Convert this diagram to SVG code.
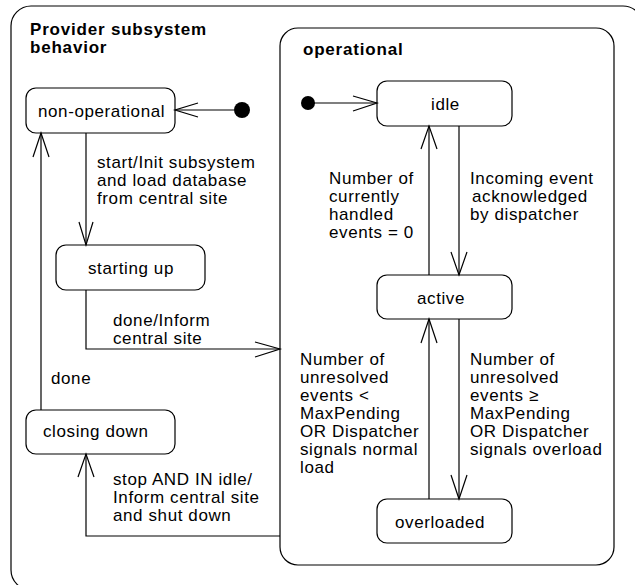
<svg xmlns="http://www.w3.org/2000/svg" width="635" height="585" viewBox="0 0 635 585">
  <style>
    .frame { fill: #fff; stroke: #000; stroke-width: 1.2; }
    .state { fill: #fff; stroke: #000; stroke-width: 1.2; }
    .edge { fill: none; stroke: #000; stroke-width: 1.2; }
    .head { fill: none; stroke: #000; stroke-width: 1.2; }
    .dot { fill: #000; }
    text { font-family: "Liberation Sans", Arial, sans-serif; font-size: 17px; letter-spacing: 0.6px; fill: #000; }
    .title { font-weight: bold; letter-spacing: 0.8px; }
  </style>

  <!-- outer composite state -->
  <g id="provider">
    <rect class="frame" x="11" y="6" width="632" height="584" rx="20"/>
    <text class="title" x="30" y="35">Provider subsystem</text>
    <text class="title" x="30" y="53">behavior</text>
  </g>

  <!-- nested composite state -->
  <g id="operational">
    <rect class="frame" x="280" y="28" width="334" height="537" rx="18"/>
    <text class="title" x="303" y="55">operational</text>
  </g>

  <g id="init-outer"><circle class="dot" cx="242" cy="110" r="8"/></g>
  <g id="init-inner"><circle class="dot" cx="308" cy="103" r="7"/></g>

  <g id="non-operational">
    <rect class="state" x="26" y="88" width="149" height="45" rx="10"/>
    <text x="38" y="117">non-operational</text>
  </g>
  <g id="starting-up">
    <rect class="state" x="56" y="245" width="149" height="45" rx="10"/>
    <text x="88" y="274">starting up</text>
  </g>
  <g id="closing-down">
    <rect class="state" x="26" y="410" width="149" height="44" rx="10"/>
    <text x="43" y="437">closing down</text>
  </g>
  <g id="idle">
    <rect class="state" x="377" y="81" width="135" height="45" rx="10"/>
    <text x="431" y="110">idle</text>
  </g>
  <g id="active">
    <rect class="state" x="377" y="275" width="135" height="44" rx="10"/>
    <text x="417" y="304">active</text>
  </g>
  <g id="overloaded">
    <rect class="state" x="377" y="499" width="135" height="44" rx="10"/>
    <text x="395" y="528">overloaded</text>
  </g>

  <g id="connectors">
    <!-- initial -> non-operational -->
    <path class="edge" d="M234 110 H175"/>
    <path class="head" d="M198 103 L175 110 L198 117"/>

    <!-- non-operational -> starting up -->
    <path class="edge" d="M86 133 V245"/>
    <path class="head" d="M79 222 L86 245 L93 222"/>
    <text x="97" y="168">start/Init subsystem</text>
    <text x="97" y="186">and load database</text>
    <text x="97" y="204">from central site</text>

    <!-- starting up -> operational -->
    <path class="edge" d="M86 290 V349 H280"/>
    <path class="head" d="M255 342 L280 349 L255 357"/>
    <text x="113" y="326">done/Inform</text>
    <text x="113" y="344">central site</text>

    <!-- closing down -> non-operational -->
    <path class="edge" d="M41 410 V133"/>
    <path class="head" d="M33 157 L41 133 L49 157"/>
    <text x="51" y="384">done</text>

    <!-- operational -> closing down -->
    <path class="edge" d="M280 536 H86 V454"/>
    <path class="head" d="M78 477 L86 454 L94 477"/>
    <text x="113" y="485">stop AND IN idle/</text>
    <text x="113" y="503">Inform central site</text>
    <text x="113" y="521">and shut down</text>

    <!-- inner initial -> idle -->
    <path class="edge" d="M308 103 H377"/>
    <path class="head" d="M353 96 L377 103 L353 111"/>

    <!-- active -> idle -->
    <path class="edge" d="M429 275 V126"/>
    <path class="head" d="M421 149 L429 126 L437 149"/>
    <text x="329" y="184">Number of</text>
    <text x="329" y="202">currently</text>
    <text x="329" y="220">handled</text>
    <text x="329" y="238">events = 0</text>

    <!-- idle -> active -->
    <path class="edge" d="M459 126 V275"/>
    <path class="head" d="M451 252 L459 275 L467 252"/>
    <text x="470" y="184">Incoming event</text>
    <text x="472" y="202">acknowledged</text>
    <text x="470" y="220">by dispatcher</text>

    <!-- overloaded -> active -->
    <path class="edge" d="M429 499 V319"/>
    <path class="head" d="M421 343 L429 319 L437 343"/>
    <text x="300" y="365">Number of</text>
    <text x="300" y="383">unresolved</text>
    <text x="300" y="401">events &lt;</text>
    <text x="300" y="419">MaxPending</text>
    <text x="300" y="437">OR Dispatcher</text>
    <text x="300" y="455">signals normal</text>
    <text x="300" y="473">load</text>

    <!-- active -> overloaded -->
    <path class="edge" d="M459 319 V499"/>
    <path class="head" d="M451 475 L459 499 L467 475"/>
    <text x="470" y="365">Number of</text>
    <text x="470" y="383">unresolved</text>
    <text x="470" y="401">events ≥</text>
    <text x="470" y="419">MaxPending</text>
    <text x="470" y="437">OR Dispatcher</text>
    <text x="470" y="455">signals overload</text>
  </g>
</svg>
